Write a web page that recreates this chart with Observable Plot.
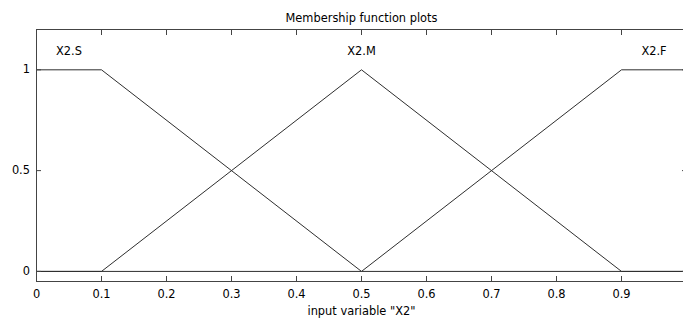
<!DOCTYPE html>
<html>
<head>
<meta charset="utf-8">
<script src="https://cdn.jsdelivr.net/npm/d3@7"></script>
<script src="https://cdn.jsdelivr.net/npm/@observablehq/plot@0.6"></script>
<style>
  html, body { margin: 0; padding: 0; background: #fff; overflow: hidden; }
  #chart svg { overflow: visible; }
</style>
</head>
<body>
<div id="chart"></div>
<script>
// Tick values / labels
const xTicks = [0, 0.1, 0.2, 0.3, 0.4, 0.5, 0.6, 0.7, 0.8, 0.9];
const xTickLabels = ["0", "0.1", "0.2", "0.3", "0.4", "0.5", "0.6", "0.7", "0.8", "0.9"];
const yTicks = [0, 0.5, 1];
const yTickLabels = ["0", "0.5", "1"];

// Membership functions
const mfNames = ["X2.S", "X2.M", "X2.F"];
const mfLabelX = [0.05, 0.5, 0.95];
const mfLabelY = [1.1, 1.1, 1.1];
const sX = [0, 0.1, 0.5, 1];
const sY = [1, 1, 0, 0];
const mX = [0, 0.1, 0.5, 0.9, 1];
const mY = [0, 0, 1, 0, 0];
const fX = [0, 0.5, 0.9, 1];
const fY = [0, 0, 1, 1];

const title = "Membership function plots";
const xLabel = 'input variable "X2"';

const series = [
  {name: mfNames[0], xs: sX, ys: sY},
  {name: mfNames[1], xs: mX, ys: mY},
  {name: mfNames[2], xs: fX, ys: fY}
];
const lineData = series.flatMap(s => s.xs.map((x, i) => ({mf: s.name, x, y: s.ys[i]})));
const labelData = mfNames.map((n, i) => ({name: n, x: mfLabelX[i], y: mfLabelY[i]}));

const ink = "#2e2e2e";
const fs = 11.4;

const chart = Plot.plot({
  width: 683,
  height: 324,
  marginLeft: 36,
  marginRight: -3,
  marginTop: 29,
  marginBottom: 43,
  style: {fontFamily: "'DejaVu Sans', sans-serif", fontSize: fs + "px", color: "#000", background: "#fff"},
  x: {domain: [0, 1], range: [36, 686], label: null},
  y: {domain: [-0.05, 1.2], range: [281, 29], label: null},
  marks: [
    Plot.line(lineData, {x: "x", y: "y", z: "mf", stroke: ink, strokeWidth: 1}),
    Plot.frame({stroke: "#444", strokeWidth: 1}),
    // inward ticks
    Plot.axisX(xTicks, {anchor: "bottom", tickSize: -5, tickFormat: () => "", stroke: "#444"}),
    Plot.axisX(xTicks, {anchor: "top", tickSize: -5, tickFormat: () => "", stroke: "#444"}),
    Plot.axisY(yTicks, {anchor: "left", tickSize: -5, tickFormat: () => "", stroke: "#444"}),
    Plot.axisY(yTicks, {anchor: "right", tickSize: -5, tickFormat: () => "", stroke: "#444"}),
    // tick labels
    Plot.axisX(xTicks, {anchor: "bottom", tickSize: 0, tickPadding: 8.5, tickFormat: (d, i) => xTickLabels[i], fill: "#000"}),
    Plot.axisY(yTicks, {anchor: "left", tickSize: 0, tickPadding: 6.5, tickFormat: (d, i) => yTickLabels[i], fill: "#000"}),
    // MF labels
    Plot.text(labelData, {x: "x", y: "y", text: "name", fill: "#000", fontSize: fs, dy: 1.5}),
    // title and x label
    Plot.text([title], {frameAnchor: "top", dy: -15.5, fill: "#000", fontSize: fs}),
    Plot.text([xLabel], {frameAnchor: "bottom", dy: 33.5, fill: "#000", fontSize: fs})
  ]
});
document.getElementById("chart").appendChild(chart);
</script>
</body>
</html>
